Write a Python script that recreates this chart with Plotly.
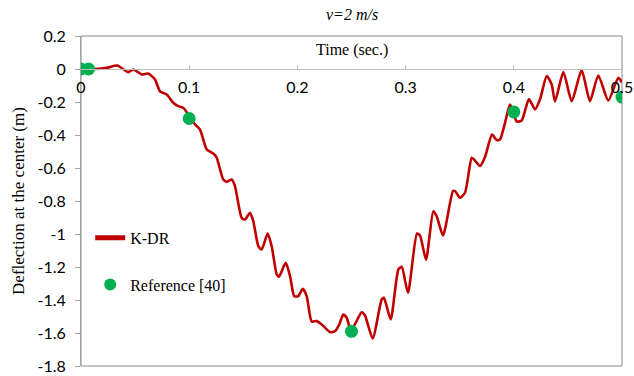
import plotly.graph_objects as go

# K-DR curve (time in s, deflection in m)
kdr_t = [0.0, 0.0129, 0.0238, 0.0335, 0.0437, 0.0483, 0.0561, 0.0622, 0.0684, 0.0730,
         0.0792, 0.0853, 0.0899, 0.0945, 0.0992, 0.1054, 0.1100, 0.1162, 0.1223, 0.1254,
         0.1315, 0.1346, 0.1393, 0.1423, 0.1485, 0.1516, 0.1562, 0.1592, 0.1639, 0.1670,
         0.1725, 0.1762, 0.1809, 0.1830, 0.1892, 0.1932, 0.1971, 0.2008, 0.2049, 0.2086,
         0.2132, 0.2178, 0.2225, 0.2301, 0.2348, 0.2387, 0.2424, 0.2456, 0.2486, 0.2523,
         0.2594, 0.2625, 0.2696, 0.2779, 0.2800, 0.2862, 0.2933, 0.2964, 0.3022, 0.3105,
         0.3133, 0.3189, 0.3256, 0.3287, 0.3346, 0.3438, 0.3457, 0.3503, 0.3549, 0.3611,
         0.3632, 0.3688, 0.3734, 0.3799, 0.3842, 0.3872, 0.3919, 0.3965, 0.4027, 0.4073,
         0.4140, 0.4196, 0.4242, 0.4304, 0.4350, 0.4381, 0.4458, 0.4535, 0.4627, 0.4704,
         0.4781, 0.4873, 0.4966, 0.5000]
kdr_y = [0.0, 0.0, 0.007, 0.021, -0.019, -0.003, -0.033, -0.027, -0.064, -0.135,
         -0.155, -0.205, -0.225, -0.235, -0.276, -0.336, -0.367, -0.488, -0.512, -0.538,
         -0.670, -0.684, -0.670, -0.710, -0.902, -0.912, -0.871, -0.922, -1.073, -1.094,
         -0.997, -1.073, -1.245, -1.259, -1.175, -1.255, -1.377, -1.377, -1.332, -1.377,
         -1.530, -1.528, -1.548, -1.595, -1.589, -1.548, -1.488, -1.508, -1.567, -1.555,
         -1.474, -1.494, -1.633, -1.397, -1.387, -1.518, -1.215, -1.199, -1.355, -0.997,
         -1.009, -1.155, -0.862, -0.892, -1.009, -0.740, -0.740, -0.780, -0.750, -0.538,
         -0.548, -0.588, -0.533, -0.397, -0.430, -0.427, -0.326, -0.215, -0.318, -0.312,
         -0.182, -0.245, -0.185, -0.043, -0.094, -0.197, -0.019, -0.195, -0.007, -0.195,
         -0.039, -0.191, -0.053, -0.082]

# Reference [40] points
ref_t = [0.0, 0.007, 0.1, 0.25, 0.4, 0.5]
ref_y = [0.0, 0.0, -0.30, -1.59, -0.26, -0.17]

y_tickvals = [0.2, 0.0, -0.2, -0.4, -0.6, -0.8, -1.0, -1.2, -1.4, -1.6, -1.8]
y_ticktext = ["0.2", "0", "-0.2", "-0.4", "-0.6", "-0.8", "-1", "-1.2", "-1.4", "-1.6", "-1.8"]
x_tickvals = [0, 0.1, 0.2, 0.3, 0.4, 0.5]
x_ticktext = ["0", "0.1", "0.2", "0.3", "0.4", "0.5"]

serif = "Liberation Serif"
sans = "Lato"

fig = go.Figure()
fig.add_trace(go.Scatter(
    x=kdr_t, y=kdr_y, mode="lines", name="K-DR",
    line=dict(color="#C00000", width=2.6, shape="spline", smoothing=0.6),
    legendgroup="a"))
fig.add_trace(go.Scatter(
    x=ref_t, y=ref_y, mode="markers", name="Reference [40]",
    marker=dict(color="#00B050", size=13), legendgroup="b"))

fig.update_layout(
    width=634, height=376,
    margin=dict(l=81, r=12, t=36, b=10),
    paper_bgcolor="white", plot_bgcolor="white",
    showlegend=True,
    legend=dict(x=0.017, y=0.44, xanchor="left", yanchor="top",
                font=dict(family=serif, size=16, color="#000"),
                bgcolor="rgba(0,0,0,0)", tracegroupgap=23, itemsizing="constant"),
    xaxis=dict(range=[0, 0.5], tickvals=x_tickvals, ticktext=x_ticktext,
               anchor="free", position=0.9, side="bottom", automargin=False,
               showline=True, linecolor="#BFBFBF", linewidth=1,
               ticks="inside", ticklen=4, tickcolor="#BFBFBF",
               ticklabelstandoff=4,
               showgrid=False, zeroline=False,
               tickfont=dict(family=sans, size=16, color="#000")),
    yaxis=dict(range=[-1.8, 0.2], tickvals=y_tickvals, ticktext=y_ticktext,
               automargin=False,
               showline=True, linecolor="#A6A6A6", linewidth=1,
               ticks="outside", ticklen=5, tickcolor="#A6A6A6",
               ticklabelstandoff=6,
               showgrid=False, zeroline=False,
               tickfont=dict(family=sans, size=16, color="#000"),
               title=dict(text="Deflection at the center (m)", standoff=8,
                          font=dict(family=serif, size=17, color="#000"))),
    shapes=[dict(type="rect", xref="paper", yref="paper", x0=0, x1=1, y0=0, y1=1,
                 line=dict(color="#888888", width=1), layer="below")],
    annotations=[
        dict(text="<i>v=2 m/s</i>", xref="paper", yref="paper", x=0.5, y=1.0,
             yanchor="middle", yshift=22, showarrow=False,
             font=dict(family=serif, size=16, color="#000")),
        dict(text="Time (sec.)", xref="paper", yref="paper", x=0.5, y=0.958,
             yanchor="middle", showarrow=False,
             font=dict(family=serif, size=16, color="#000")),
    ],
)

fig.write_html("out.html")
